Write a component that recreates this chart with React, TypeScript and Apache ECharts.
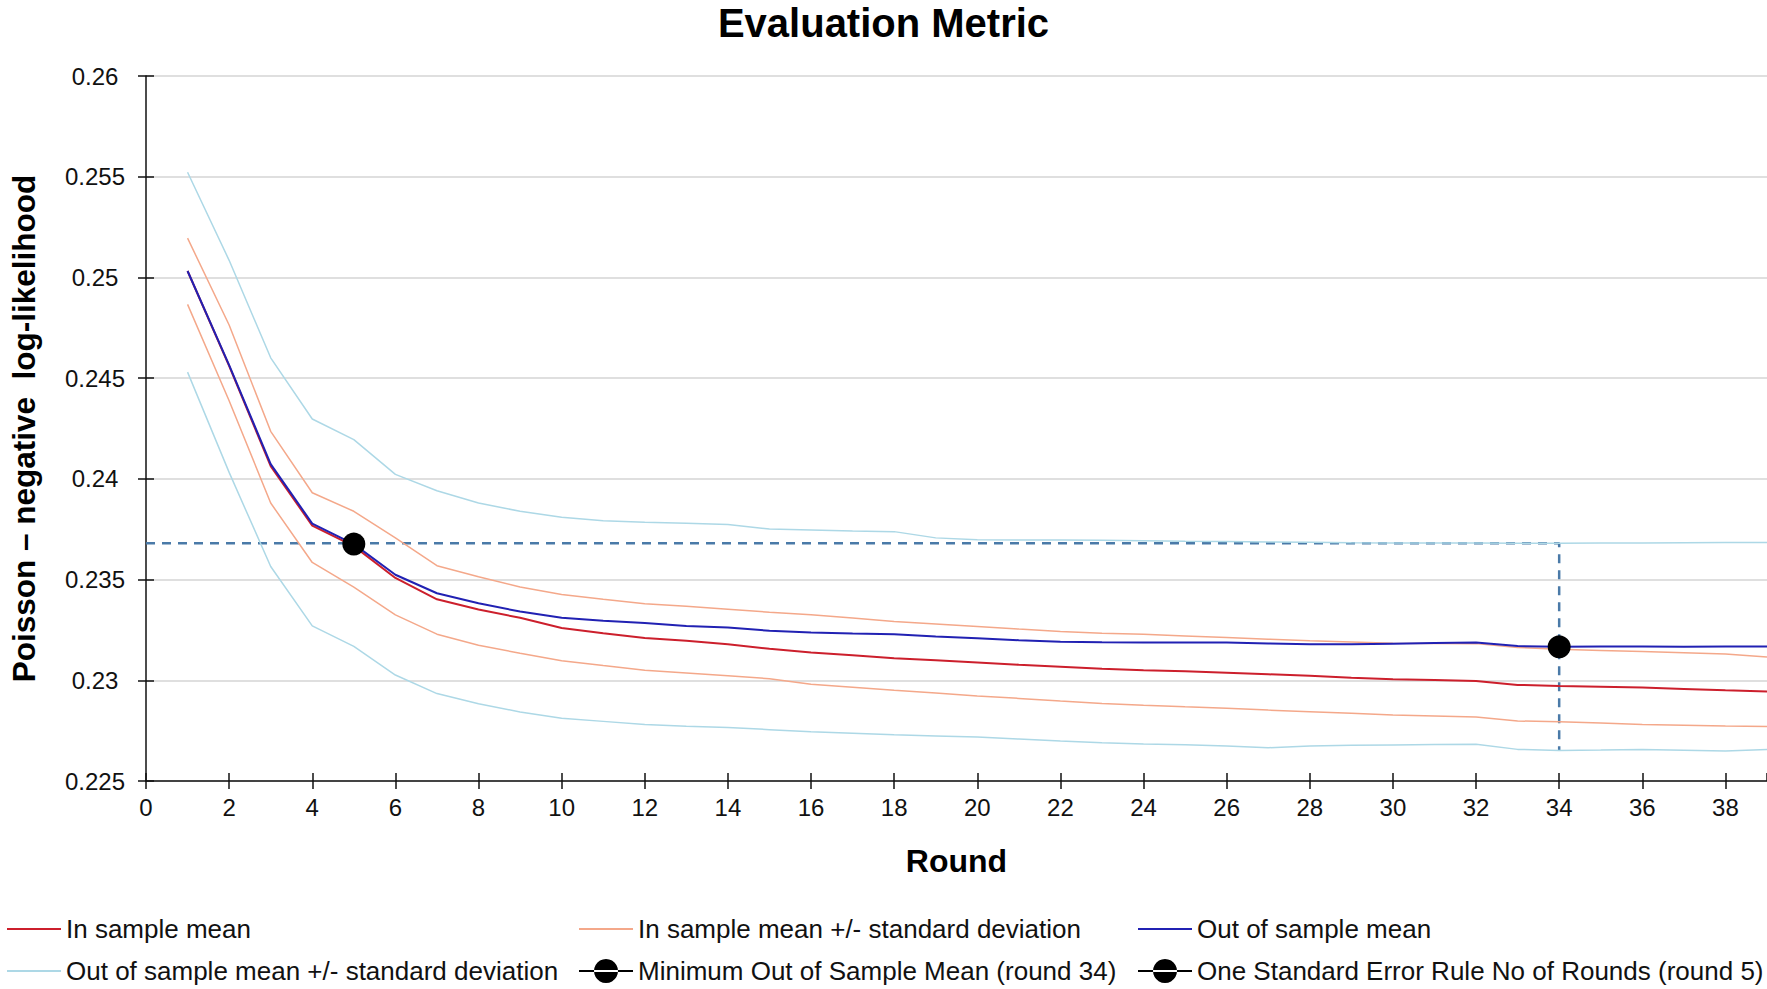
import React, { useEffect, useRef } from "react";
import * as echarts from "echarts";

// Labels
const chartTitle = "Evaluation Metric";
const xAxisName = "Round";
const yAxisName = "Poisson – negative  log-likelihood";

const nameInMean = "In sample mean";
const nameInBand = "In sample mean +/- standard deviation";
const nameOutMean = "Out of sample mean";
const nameOutBand = "Out of sample mean +/- standard deviation";
const nameMinMarker = "Minimum Out of Sample Mean (round 34)";
const nameSeMarker = "One Standard Error Rule No of Rounds (round 5)";

// Boosting rounds
const rounds = [
  1, 2, 3, 4, 5, 6, 7, 8, 9, 10, 11, 12, 13, 14, 15, 16, 17, 18, 19, 20,
  21, 22, 23, 24, 25, 26, 27, 28, 29, 30, 31, 32, 33, 34, 35, 36, 37, 38, 39,
];

// In-sample metric
const inSampleMean = [
  0.25032, 0.24561, 0.24063, 0.23768, 0.23666, 0.23508, 0.23402, 0.23351, 0.2331, 0.2326,
  0.23233, 0.2321, 0.23196, 0.23179, 0.23156, 0.23138, 0.23124, 0.2311, 0.23099, 0.23088,
  0.23077, 0.23067, 0.23057, 0.2305, 0.23045, 0.23038, 0.2303, 0.23022, 0.23013, 0.23005,
  0.23001, 0.22997, 0.22977, 0.22972, 0.22968, 0.22964, 0.22957, 0.2295, 0.22944,
];
const inSampleUpper = [
  0.25195, 0.24764, 0.24236, 0.23931, 0.23839, 0.23707, 0.23569, 0.23514, 0.23463, 0.23426,
  0.23402, 0.2338, 0.23367, 0.23353, 0.23338, 0.23325, 0.23309, 0.23292, 0.2328, 0.23267,
  0.23254, 0.23242, 0.23234, 0.23228, 0.2322, 0.23212, 0.23204, 0.23196, 0.2319, 0.23184,
  0.23183, 0.23182, 0.23163, 0.23154, 0.23148, 0.23143, 0.23137, 0.2313, 0.23116,
];
const inSampleLower = [
  0.24866, 0.24388, 0.2388, 0.23585, 0.23463, 0.23325, 0.23229, 0.23174, 0.23134, 0.23097,
  0.23073, 0.2305, 0.23036, 0.23022, 0.23008, 0.2298, 0.22966, 0.22951, 0.22937, 0.22922,
  0.2291, 0.22897, 0.22885, 0.22876, 0.22868, 0.22861, 0.22852, 0.22844, 0.22836, 0.22828,
  0.22823, 0.22818, 0.22798, 0.22794, 0.22788, 0.22781, 0.22777, 0.22773, 0.2277,
];

// Out-of-sample metric
const outSampleMean = [
  0.25032, 0.24565, 0.24073, 0.23778, 0.23676, 0.23524, 0.23432, 0.23382, 0.23341, 0.2331,
  0.23296, 0.23284, 0.2327, 0.23262, 0.23246, 0.23237, 0.23232, 0.23229, 0.23217, 0.23209,
  0.23199, 0.23191, 0.23189, 0.23188, 0.23188, 0.23188, 0.23183, 0.23179, 0.23179, 0.23182,
  0.23185, 0.23188, 0.2317, 0.23166, 0.23168, 0.23168, 0.23167, 0.23168, 0.23168,
];
const outSampleUpper = [
  0.25522, 0.25085, 0.24601, 0.24297, 0.24195, 0.24022, 0.23941, 0.2388, 0.23839, 0.23809,
  0.23792, 0.23785, 0.23779, 0.23773, 0.23751, 0.23746, 0.23741, 0.23738, 0.23707, 0.23698,
  0.23697, 0.23697, 0.23695, 0.23693, 0.2369, 0.23689, 0.23687, 0.23685, 0.23683, 0.23682,
  0.23681, 0.23681, 0.2368, 0.2368, 0.23681, 0.23682, 0.23683, 0.23684, 0.23684,
];
const outSampleLower = [
  0.2453, 0.24032, 0.23565, 0.2327, 0.23168, 0.23026, 0.22934, 0.22883, 0.22843, 0.22812,
  0.22796, 0.2278, 0.22772, 0.22765, 0.22755, 0.22745, 0.22737, 0.22729, 0.22724, 0.22718,
  0.22708, 0.22698, 0.2269, 0.22684, 0.2268, 0.22674, 0.22665, 0.22674, 0.22677, 0.22679,
  0.22681, 0.22682, 0.22657, 0.22652, 0.22654, 0.22657, 0.22653, 0.22649, 0.22657,
];

// Round selection
const minRound = 34;
const seRound = 5;

// Axis ranges
const xMin = 0;
const xMax = 39;
const xStep = 2;
const yMin = 0.225;
const yMax = 0.26;
const yStep = 0.005;

const FONT = "'Liberation Sans', Arial, Helvetica, sans-serif";
const RED = "#cc1f2c";
const BLUE = "#2121b3";
const SALMON = "#f4a88a";
const LIGHTBLUE = "#add8e6";
const DASH = "#4a7aa8";

const LINE_ICON = "path://M0,0h54v2H0z";
const MARKER_ICON = "path://M0,11h54v2H0z M27,0a12,12 0 1,0 0.01,0z";

const pairs = (values: number[]) => rounds.map((r, i) => [r, values[i]]);

function bandSeries(name: string, values: number[], color: string) {
  return {
    name,
    type: "line",
    data: pairs(values),
    symbol: "none",
    color,
    silent: true,
    lineStyle: { color, width: 1.5 },
  };
}

function meanSeries(name: string, values: number[], color: string) {
  return {
    name,
    type: "line",
    data: pairs(values),
    symbol: "none",
    color,
    silent: true,
    lineStyle: { color, width: 2 },
  };
}

function markerSeries(name: string, round: number) {
  return {
    name,
    type: "line",
    data: [[round, outSampleMean[round - 1]]],
    symbol: "circle",
    symbolSize: 23,
    color: "#000",
    itemStyle: { color: "#000" },
    lineStyle: { color: "#000", width: 2 },
    silent: true,
  };
}

function legendAt(name: string, left: number, top: number, icon: string) {
  return {
    data: [{ name, icon }],
    left,
    top,
    padding: 0,
    itemWidth: 54,
    itemHeight: 30,
    selectedMode: false,
    textStyle: { fontSize: 26, color: "#111", fontFamily: FONT, lineHeight: 30 },
  };
}

export default function App() {
  const ref = useRef<HTMLDivElement>(null);

  useEffect(() => {
    if (!ref.current) return;
    const chart = echarts.init(ref.current, undefined, { renderer: "svg" });

    const threshold = outSampleUpper[minRound - 1];
    const lowerAtMin = outSampleLower[minRound - 1];

    const axisColor = "#111";

    chart.setOption({
      animation: false,
      backgroundColor: "#fff",
      textStyle: { fontFamily: FONT },
      title: {
        text: chartTitle,
        left: "center",
        top: 0,
        padding: 0,
        textStyle: { fontSize: 40, fontWeight: "bold", color: "#000", fontFamily: FONT, lineHeight: 45 },
      },
      legend: [
        legendAt(nameInMean, 7, 914, LINE_ICON),
        legendAt(nameInBand, 579, 914, LINE_ICON),
        legendAt(nameOutMean, 1138, 914, LINE_ICON),
        legendAt(nameOutBand, 7, 956, LINE_ICON),
        legendAt(nameMinMarker, 579, 956, MARKER_ICON),
        legendAt(nameSeMarker, 1138, 956, MARKER_ICON),
      ],
      grid: { left: 139, right: 0, top: 76, bottom: 208, containLabel: false },
      xAxis: [
        {
          type: "value",
          min: xMin,
          max: xMax,
          interval: xStep,
          position: "bottom",
          name: xAxisName,
          nameLocation: "middle",
          nameGap: 64,
          nameTextStyle: { fontSize: 32, fontWeight: "bold", color: "#000", fontFamily: FONT },
          axisLine: { onZero: false, lineStyle: { color: axisColor, width: 1.5 } },
          axisTick: { show: true, length: 8, lineStyle: { color: axisColor, width: 1.5 } },
          axisLabel: { fontSize: 24, color: "#111", margin: 14, showMaxLabel: false, fontFamily: FONT },
          splitLine: { show: false },
        },
        {
          type: "value",
          min: xMin,
          max: xMax,
          interval: xStep,
          position: "bottom",
          axisLine: { show: false, onZero: false },
          axisTick: { show: true, inside: true, length: 8, lineStyle: { color: axisColor, width: 1.5 } },
          axisLabel: { show: false },
          splitLine: { show: false },
        },
      ],
      yAxis: [
        {
          type: "value",
          min: yMin,
          max: yMax,
          interval: yStep,
          position: "left",
          name: yAxisName,
          nameLocation: "middle",
          nameGap: 106,
          nameTextStyle: { fontSize: 31.5, fontWeight: "bold", color: "#000", fontFamily: FONT },
          axisLine: { show: true, onZero: false, lineStyle: { color: axisColor, width: 1.5 } },
          axisTick: { show: true, length: 8, lineStyle: { color: axisColor, width: 1.5 } },
          axisLabel: { fontSize: 24, color: "#111", margin: 51, align: "center", fontFamily: FONT },
          splitLine: { show: true, lineStyle: { color: "#d4d4d4", width: 1.5 } },
        },
        {
          type: "value",
          min: yMin,
          max: yMax,
          interval: yStep,
          position: "left",
          axisLine: { show: false, onZero: false },
          axisTick: { show: true, inside: true, length: 8, lineStyle: { color: axisColor, width: 1.5 } },
          axisLabel: { show: false },
          splitLine: { show: false },
        },
      ],
      series: [
        {
          name: "threshold",
          type: "line",
          data: [
            [xMin, threshold],
            [minRound, threshold],
            [minRound, lowerAtMin],
          ],
          symbol: "none",
          silent: true,
          color: DASH,
          lineStyle: { color: DASH, width: 2.5, type: [9, 7] },
        },
        bandSeries(nameInBand, inSampleUpper, SALMON),
        bandSeries(nameInBand, inSampleLower, SALMON),
        bandSeries(nameOutBand, outSampleUpper, LIGHTBLUE),
        bandSeries(nameOutBand, outSampleLower, LIGHTBLUE),
        meanSeries(nameInMean, inSampleMean, RED),
        meanSeries(nameOutMean, outSampleMean, BLUE),
        markerSeries(nameMinMarker, minRound),
        markerSeries(nameSeMarker, seRound),
      ],
    });

    return () => chart.dispose();
  }, []);

  return (
    <div
      ref={ref}
      style={{ position: "absolute", left: 0, top: 0, width: 1767, height: 989, background: "#fff" }}
    />
  );
}
